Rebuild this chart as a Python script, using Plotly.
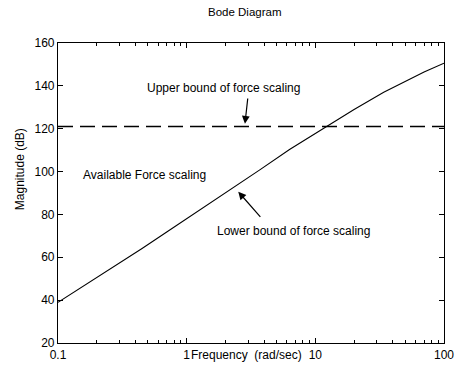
import numpy as np
import plotly.graph_objects as go

# Data
freq = [0.1, 0.15, 0.2, 0.3, 0.45, 0.7, 1.0, 1.5, 2.3, 3.7, 6.3, 10.0, 12.2, 20.0, 34.0, 50.0, 70.0, 100.0]
mag_lower = [39.0, 45.7, 50.4, 57.1, 64.1, 71.8, 78.0, 85.0, 92.2, 100.8, 110.3, 117.8, 121.0, 129.0, 137.0, 142.0, 146.5, 150.6]
upper_bound = 121.0
upper_freq = [0.1, 100.0]
xtick_vals = [0.1, 1, 10, 100]
xtick_text = ["0.1", "1", "10", "100"]
ytick_vals = [20, 40, 60, 80, 100, 120, 140, 160]

minor_x = [m * d for d in (0.1, 1, 10) for m in range(2, 10)]

FONT = "Liberation Sans, Arial, sans-serif"

fig = go.Figure()
fig.add_trace(go.Scatter(x=freq, y=mag_lower, mode="lines",
                         line=dict(color="black", width=1.1), showlegend=False))
fig.add_trace(go.Scatter(x=upper_freq, y=[upper_bound, upper_bound], mode="lines",
                         line=dict(color="black", width=1.4, dash="15px,7px"), showlegend=False))

axis_common = dict(showgrid=False, zeroline=False, showline=True, linecolor="black",
                   linewidth=1.2, mirror="allticks", ticks="inside", tickcolor="black",
                   automargin=False,
                   tickfont=dict(family=FONT, size=12, color="black"))

fig.update_xaxes(type="log", range=[-1, 2], tickmode="array", tickvals=xtick_vals,
                 ticktext=xtick_text, ticklen=5, ticklabelstandoff=0,
                 minor=dict(tickmode="array", tickvals=minor_x, ticks="inside", ticklen=3,
                            tickcolor="black", showgrid=False),
                 **axis_common)
fig.update_yaxes(range=[20, 160], tickmode="array", tickvals=ytick_vals, ticklen=5,
                 **axis_common)

ann = []
ann.append(dict(text="Bode Diagram", xref="paper", yref="paper", x=0.484, y=1.103,
                xanchor="center", yanchor="middle",
                showarrow=False, font=dict(family=FONT, size=11.5, color="black")))
ann.append(dict(text="Frequency  (rad/sec)", xref="paper", yref="paper", x=0.34, y=-0.04,
                xanchor="left", yanchor="middle", showarrow=False,
                font=dict(family=FONT, size=12, color="black")))
ann.append(dict(text="Magnitude (dB)", xref="paper", yref="paper", x=-0.098, y=0.58,
                xanchor="center", yanchor="middle",
                textangle=-90, showarrow=False, font=dict(family=FONT, size=12, color="black")))
ann.append(dict(text="Upper bound of force scaling", xref="x", yref="y", x=0.29, y=139,
                xanchor="center", yanchor="middle",
                showarrow=False, font=dict(family=FONT, size=12, color="black")))
ann.append(dict(text="Available Force scaling", xref="x", yref="y", x=-0.33, y=98.4,
                xanchor="center", yanchor="middle",
                showarrow=False, font=dict(family=FONT, size=12, color="black")))
ann.append(dict(text="Lower bound of force scaling", xref="x", yref="y", x=0.83, y=72.3,
                xanchor="center", yanchor="middle",
                showarrow=False, font=dict(family=FONT, size=12, color="black")))
# arrows
ann.append(dict(text="", xref="x", yref="y", axref="x", ayref="y",
                x=0.453, y=122.3, ax=0.476, ay=134.8, showarrow=True,
                arrowhead=2, arrowsize=1.3, arrowwidth=1.2, arrowcolor="black"))
ann.append(dict(text="", xref="x", yref="y", axref="x", ayref="y",
                x=0.401, y=90.6, ax=0.583, ay=78.2, showarrow=True,
                arrowhead=2, arrowsize=1.3, arrowwidth=1.2, arrowcolor="black"))

fig.update_layout(width=456, height=365, margin=dict(l=58, r=12, t=43, b=22),
                  plot_bgcolor="white", paper_bgcolor="white", annotations=ann,
                  font=dict(family=FONT, color="black"))

fig.write_html("out.html")
